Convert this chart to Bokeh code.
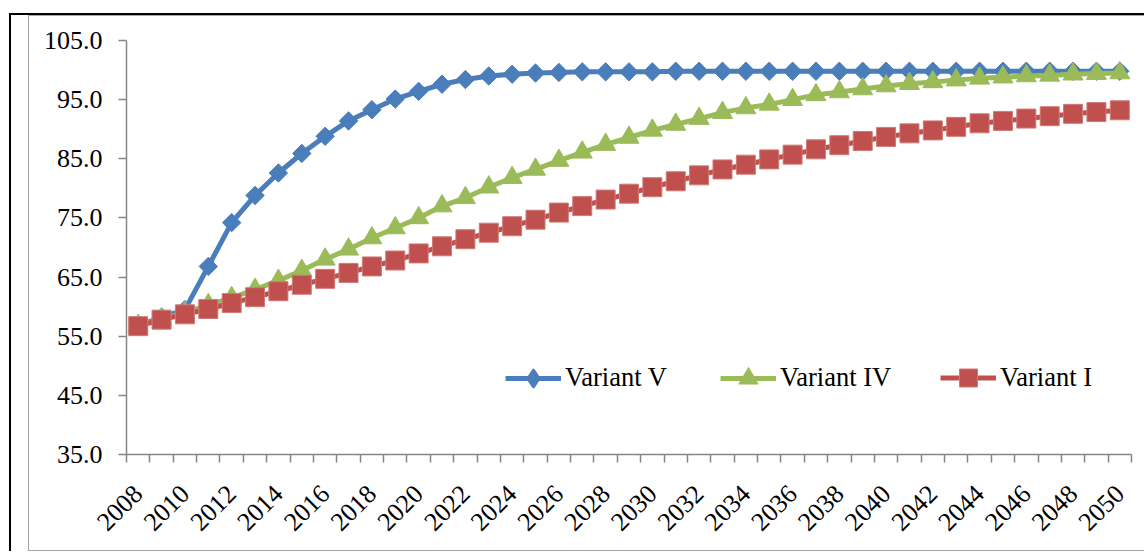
from math import pi
from bokeh.plotting import figure
from bokeh.layouts import column
from bokeh.models import FixedTicker, Legend, LegendItem, Range1d
from bokeh.embed import file_html
from bokeh.resources import INLINE

years = list(range(2008, 2051))
variant_v = [56.8, 58.2, 59.5, 66.8, 74.2, 78.8, 82.6, 85.9, 88.8, 91.4,
             93.3, 95.1, 96.4, 97.6, 98.4, 99.0, 99.3, 99.5, 99.6, 99.7,
             99.7, 99.7, 99.7, 99.8, 99.8, 99.8, 99.8, 99.8, 99.8, 99.8,
             99.8, 99.8, 99.8, 99.8, 99.8, 99.8, 99.8, 99.8, 99.8, 99.8,
             99.8, 99.8, 99.8]
variant_iv = [56.8, 57.9, 59.0, 60.3, 61.5, 62.9, 64.4, 66.1, 68.0, 69.7,
              71.6, 73.3, 75.0, 77.0, 78.4, 80.2, 81.8, 83.2, 84.7, 86.1,
              87.4, 88.6, 89.8, 90.8, 91.8, 92.8, 93.6, 94.2, 95.0, 95.8,
              96.3, 96.8, 97.3, 97.7, 98.0, 98.3, 98.6, 98.8, 99.0, 99.1,
              99.3, 99.4, 99.5]
variant_i = [56.7, 57.8, 58.7, 59.6, 60.6, 61.6, 62.6, 63.7, 64.7, 65.7,
             66.8, 67.8, 69.0, 70.2, 71.4, 72.5, 73.6, 74.7, 75.9, 77.0,
             78.1, 79.1, 80.2, 81.2, 82.2, 83.2, 84.0, 84.9, 85.7, 86.6,
             87.3, 88.0, 88.7, 89.3, 89.8, 90.4, 91.0, 91.4, 91.8, 92.2,
             92.6, 92.9, 93.2]
tick_years = years[::2]
tick_labels = [str(y) for y in tick_years]
y_ticks = [35, 45, 55, 65, 75, 85, 95, 105]
series_names = ["Variant V", "Variant IV", "Variant I"]

FONT = "Liberation Serif"
BLUE = "#4a7ebb"
GREEN = "#9bbb59"
RED = "#c0504d"
GRAY = "#868686"

p = figure(width=1116, height=536, output_backend="svg", toolbar_location=None,
           x_range=Range1d(years[0] - 0.5, years[-1] + 0.5),
           y_range=Range1d(35, 105),
           min_border_left=97, min_border_right=14,
           min_border_top=24, min_border_bottom=98,
           margin=(0, 0, 0, 17),
           styles={"border": "1.5px solid #a6a6a6", "border-right": "none"})
p.outline_line_color = None
p.xgrid.visible = False
p.ygrid.visible = False
p.background_fill_color = "white"
p.border_fill_color = "white"

# x axis: labels at category centres, ticks between categories
xt = FixedTicker(ticks=tick_years, minor_ticks=[y - 0.5 for y in years] + [years[-1] + 0.5])
p.xaxis.ticker = xt
p.xaxis.major_label_overrides = {y: l for y, l in zip(tick_years, tick_labels)}
p.xaxis.major_tick_out = 0
p.xaxis.major_tick_in = 0
p.xaxis.minor_tick_out = 8
p.xaxis.minor_tick_in = 0
p.xaxis.minor_tick_line_color = GRAY
p.xaxis.minor_tick_line_width = 1.5
p.xaxis.major_label_orientation = pi / 4
p.xaxis.major_label_standoff = 27

# y axis
p.yaxis.ticker = FixedTicker(ticks=y_ticks)
p.yaxis.major_label_overrides = {v: f"{v:.1f}" for v in y_ticks}
p.yaxis.major_tick_out = 8
p.yaxis.major_tick_in = 0
p.yaxis.minor_tick_line_color = None
p.yaxis.major_tick_line_color = GRAY
p.yaxis.major_tick_line_width = 1.5
p.yaxis.major_label_standoff = 16

for ax in (p.xaxis, p.yaxis):
    ax.axis_line_color = GRAY
    ax.axis_line_width = 1.5
    ax.major_label_text_font = FONT
    ax.major_label_text_font_size = "26px"
    ax.major_label_text_color = "black"

l1 = p.line(years, variant_v, line_color=BLUE, line_width=5)
# diamond drawn under the rotated squares; used for the legend glyph
d1 = p.scatter(years, variant_v, marker="diamond", size=12,
               fill_color=BLUE, line_color=BLUE, line_width=2)
s1 = p.scatter(years, variant_v, marker="square", angle=pi / 4, size=13,
               fill_color=BLUE, line_color=BLUE)
l2 = p.line(years, variant_iv, line_color=GREEN, line_width=5)
s2 = p.scatter(years, variant_iv, marker="triangle", size=20,
               fill_color=GREEN, line_color=GREEN)
l3 = p.line(years, variant_i, line_color=RED, line_width=5)
s3 = p.scatter(years, variant_i, marker="square", size=19,
               fill_color=RED, line_color="#d07a77", line_width=1)

# one legend per item so that each marker can get its own size
for name, rs, gh, x in [(series_names[0], [l1, d1], 46, 379),
                        (series_names[1], [l2, s2], 48, 594),
                        (series_names[2], [l3, s3], 45, 814)]:
    lg = Legend(items=[LegendItem(label=name, renderers=rs)],
                orientation="horizontal", location=(x, 76.5 - gh / 2),
                glyph_width=56, glyph_height=gh, label_standoff=4,
                padding=0, margin=0, border_line_color=None,
                background_fill_alpha=0,
                label_text_font=FONT, label_text_font_size="26.5px",
                label_text_color="black")
    p.add_layout(lg, "center")

outer = column(p, margin=(13, 0, 0, 9),
               styles={"border-left": "2px solid black", "border-top": "2px solid black"})

open("out.html", "w").write(file_html(outer, INLINE))
